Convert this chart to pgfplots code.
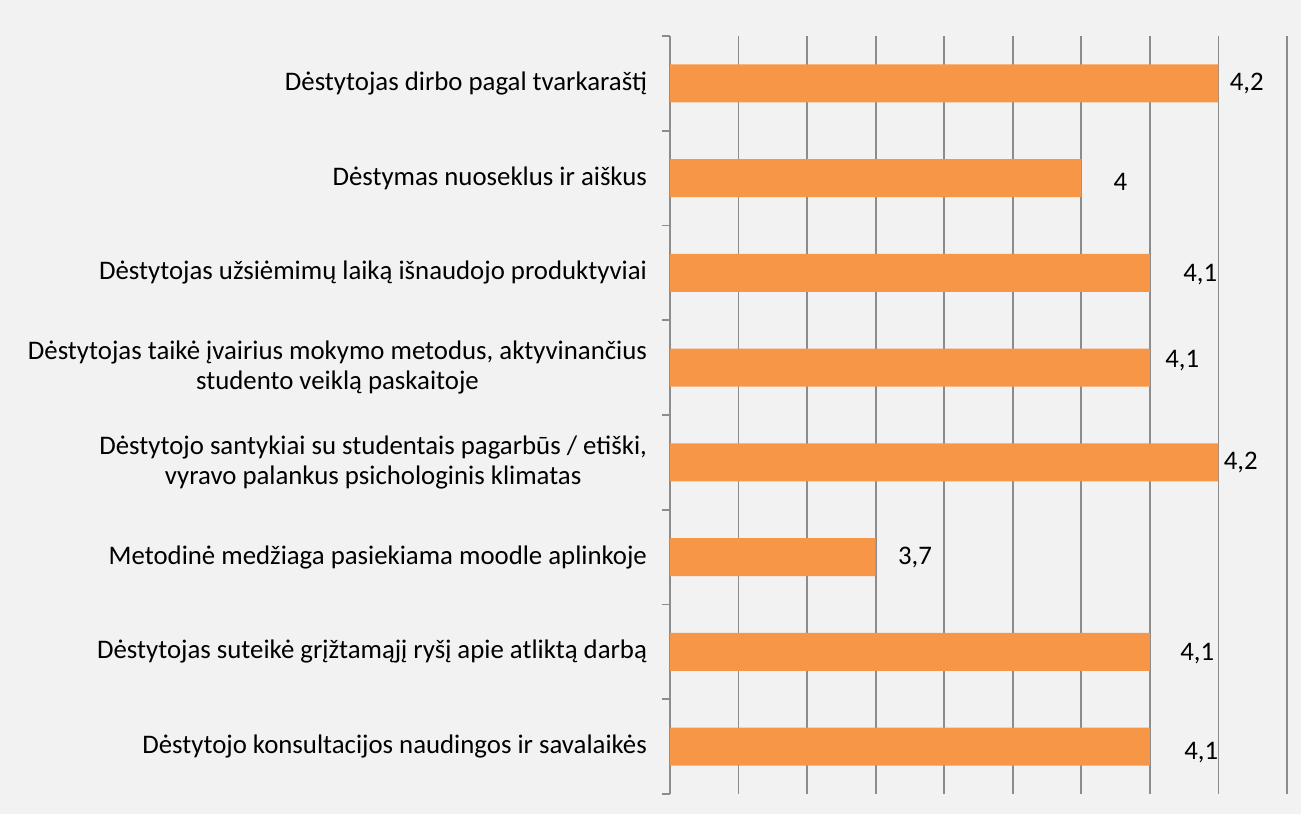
\documentclass[border=0pt]{standalone}
\usepackage{pgfplots}
\pgfplotsset{compat=1.18}
\usepackage{fontspec}
\setmainfont{Carlito}
\definecolor{bg}{HTML}{F2F2F2}
\definecolor{barc}{HTML}{F79646}
\definecolor{gridc}{HTML}{8C8C8C}
\begin{document}
\begin{tikzpicture}
\fill[bg] (0,0) rectangle (650.5pt,407pt);
\useasboundingbox (0,0) rectangle (650.5pt,407pt);
\begin{axis}[
  at={(335pt,10pt)}, anchor=south west,
  scale only axis, width=308.5pt, height=379pt,
  xbar, bar width=19pt,
  xmin=3.4, xmax=4.3,
  ymin=-0.5, ymax=7.5, y dir=reverse,
  xtick={3.5,3.6,...,4.31}, xticklabels={},
  major tick length=0pt,
  xmajorgrids, grid style={gridc, line width=0.9pt},
  ytick={0,...,7},
  minor ytick={-0.5,0.5,...,7.5}, minor tick length=4pt,
  tick align=outside, tick style={gridc, line width=0.9pt},
  axis x line*=bottom, x axis line style={draw=none},
  axis y line*=left, y axis line style={gridc, line width=0.9pt},
  yticklabels={
    {Dėstytojas dirbo pagal tvarkaraštį},
    {Dėstymas nuoseklus ir aiškus},
    {Dėstytojas užsiėmimų laiką išnaudojo produktyviai},
    {Dėstytojas taikė įvairius mokymo metodus, aktyvinančius\\studento veiklą paskaitoje},
    {Dėstytojo santykiai su studentais pagarbūs / etiški,\\vyravo palankus psichologinis klimatas},
    {Metodinė medžiaga pasiekiama moodle aplinkoje},
    {Dėstytojas suteikė grįžtamąjį ryšį apie atliktą darbą},
    {Dėstytojo konsultacijos naudingos ir savalaikės}},
  yticklabel style={align=center, font=\fontsize{13.4}{14.8}\selectfont, xshift=-8pt},
]
\addplot[fill=barc, draw=none,
  visualization depends on={\thisrow{dx} \as \dx},
  visualization depends on={\thisrow{dy} \as \dy},
  nodes near coords,
  nodes near coords style={anchor=west, inner sep=0pt, xshift=\dx pt, yshift=\dy pt,
    font=\fontsize{13.4}{15}\selectfont, black,
    /pgf/number format/use comma, /pgf/number format/assume math mode=true},
] table {
  x   y  dx   dy
  4.2 0  5.5  0
  4.0 1  16   -2
  4.1 2  16.5 -1
  4.1 3  7.5  3.5
  4.2 4  2.5  0
  3.7 5  11   0
  4.1 6  15   -1
  4.1 7  17   -3
};
\end{axis}
\end{tikzpicture}
\end{document}
